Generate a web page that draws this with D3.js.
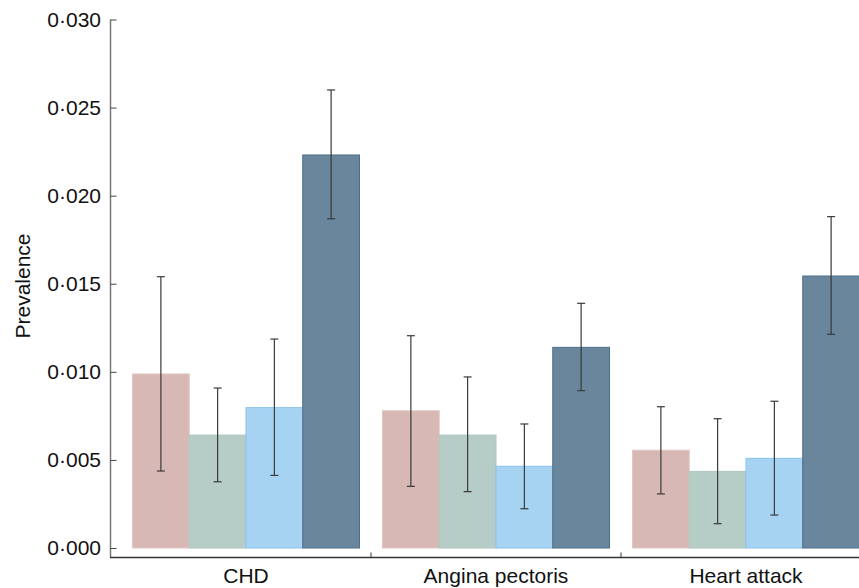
<!DOCTYPE html>
<html>
<head>
<meta charset="utf-8">
<script src="https://cdn.jsdelivr.net/npm/d3@7"></script>
<style>
  body { margin: 0; background: #fff; }
  svg { display: block; font-family: "Liberation Sans", Arial, sans-serif; }
</style>
</head>
<body>
<div id="canvas"></div>
<script>
// data
const categories = ["CHD", "Angina pectoris", "Heart attack"];
const series = ["s1", "s2", "s3", "s4"];
const values = [
  [0.00988, 0.00641, 0.00797, 0.02231],
  [0.00779, 0.00641, 0.00464, 0.01139],
  [0.00555, 0.00435, 0.00509, 0.01544]
];
const lower = [
  [0.00437, 0.00376, 0.00412, 0.01869],
  [0.00350, 0.00320, 0.00223, 0.00893],
  [0.00307, 0.00138, 0.00187, 0.01213]
];
const upper = [
  [0.01540, 0.00908, 0.01186, 0.02600],
  [0.01205, 0.00971, 0.00704, 0.01389],
  [0.00802, 0.00734, 0.00833, 0.01881]
];
const yTicks = [0, 0.005, 0.010, 0.015, 0.020, 0.025, 0.030];
const colors = ["#d8b8b4", "#b6cdc7", "#a7d3f2", "#69869c"];
const strokes = ["#e2c6c2", "#b0c6c0", "#8cc2ea", "#4e6f8a"];

const width = 859;
const height = 588;
const fs = "21px";

const svg = d3.select("#canvas").append("svg")
  .attr("width", width)
  .attr("height", height);

const y = d3.scaleLinear().domain([0, 0.03]).range([548, 19.5]);

const x = d3.scaleBand()
  .domain(categories)
  .range([121, 871])
  .paddingInner(0.092)
  .paddingOuter(0.046);

const xs = d3.scaleBand().domain(series).range([0, x.bandwidth()]);

const rows = [];
categories.forEach((c, i) => {
  series.forEach((s, j) => {
    rows.push({ cat: c, s: s, j: j, v: values[i][j], lo: lower[i][j], hi: upper[i][j] });
  });
});

// bars
svg.append("g").selectAll("rect").data(rows).enter().append("rect")
  .attr("x", (d) => x(d.cat) + xs(d.s))
  .attr("y", (d) => y(d.v))
  .attr("width", xs.bandwidth())
  .attr("height", (d) => y(0) - y(d.v))
  .attr("fill", (d) => colors[d.j])
  .attr("stroke", (d) => strokes[d.j])
  .attr("stroke-width", 1);

// error bars
const eb = svg.append("g").attr("stroke", "#3a3a3a").attr("stroke-width", 1.2);
const cx = (d) => x(d.cat) + xs(d.s) + xs.bandwidth() / 2;
eb.selectAll("line.v").data(rows).enter().append("line")
  .attr("class", "v")
  .attr("x1", cx).attr("x2", cx)
  .attr("y1", (d) => y(d.lo)).attr("y2", (d) => y(d.hi));
eb.selectAll("line.t").data(rows).enter().append("line")
  .attr("class", "t")
  .attr("x1", (d) => cx(d) - 4).attr("x2", (d) => cx(d) + 4)
  .attr("y1", (d) => y(d.hi)).attr("y2", (d) => y(d.hi));
eb.selectAll("line.b").data(rows).enter().append("line")
  .attr("class", "b")
  .attr("x1", (d) => cx(d) - 4).attr("x2", (d) => cx(d) + 4)
  .attr("y1", (d) => y(d.lo)).attr("y2", (d) => y(d.lo));

// y axis
const fmt = (d) => d3.format(".3f")(d).replace(".", "\u00b7");
const yAxis = svg.append("g")
  .attr("transform", "translate(110.5,0)")
  .call(d3.axisRight(y).tickValues(yTicks).tickFormat(fmt).tickSize(6));
yAxis.select(".domain").attr("d", `M0,${y(0.03)}V557`).attr("stroke", "#777").attr("stroke-width", 1.5);
yAxis.selectAll(".tick line").attr("stroke", "#444");
yAxis.selectAll(".tick text")
  .attr("x", -9.5)
  .attr("text-anchor", "end")
  .style("font-size", fs)
  .attr("fill", "#111");

// x axis
const xAxis = svg.append("g").attr("transform", "translate(0,557.5)");
xAxis.append("line")
  .attr("x1", 110).attr("x2", width)
  .attr("stroke", "#333").attr("stroke-width", 1.3);
const gap = (x.step() - x.bandwidth()) / 2;
xAxis.selectAll("line.tk").data(categories).enter().append("line")
  .attr("class", "tk")
  .attr("x1", (d) => x(d) + x.bandwidth() + gap)
  .attr("x2", (d) => x(d) + x.bandwidth() + gap)
  .attr("y1", -5).attr("y2", 0)
  .attr("stroke", "#333");
xAxis.selectAll("text").data(categories).enter().append("text")
  .attr("x", (d) => x(d) + x.bandwidth() / 2)
  .attr("y", 25)
  .attr("text-anchor", "middle")
  .style("font-size", fs)
  .attr("fill", "#111")
  .text((d) => d);

// y label
svg.append("text")
  .attr("transform", "translate(30,286) rotate(-90)")
  .attr("text-anchor", "middle")
  .style("font-size", fs)
  .attr("fill", "#111")
  .text("Prevalence");
</script>
</body>
</html>
